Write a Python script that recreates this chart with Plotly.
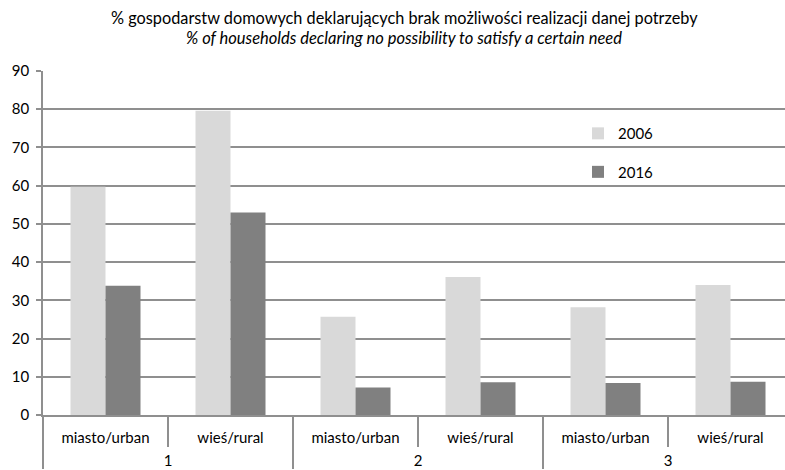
import plotly.graph_objects as go

groups = ["1", "1", "2", "2", "3", "3"]
areas = ["miasto/urban", "wieś/rural", "miasto/urban", "wieś/rural", "miasto/urban", "wieś/rural"]
values_2006 = [59.7, 79.6, 25.7, 36.1, 28.2, 34.0]
values_2016 = [33.8, 53.0, 7.2, 8.6, 8.4, 8.7]
y_ticks = [0, 10, 20, 30, 40, 50, 60, 70, 80, 90]
title_pl = "% gospodarstw domowych deklarujących brak możliwości realizacji danej potrzeby"
title_en = "% of households declaring no possibility to satisfy a certain need"

FONT = "Lato"
GRID = "#8f8f8f"

# outer level labels get a leading line break so they sit lower, as in the reference
span = "<span style='font-size:15px'>{}</span>"
group_labels = ["<br>" + span.format(g) for g in groups]
area_labels = [span.format(a) for a in areas]

fig = go.Figure()
fig.add_trace(go.Bar(x=[group_labels, area_labels], y=values_2006, name="2006",
                     marker=dict(color="#d9d9d9", line=dict(width=0)),
                     legendgroup="a"))
fig.add_trace(go.Bar(x=[group_labels, area_labels], y=values_2016, name="2016",
                     marker=dict(color="#808080", line=dict(width=0)),
                     legendgroup="b"))

fig.add_annotation(text=title_pl, xref="paper", yref="paper", x=(404 - 43) / 742, y=(415 - 18) / 344,
                   xanchor="center", yanchor="middle", showarrow=False,
                   font=dict(family=FONT, size=16.3, color="#000000"))
fig.add_annotation(text="<i>" + title_en + "</i>", xref="paper", yref="paper", x=(404 - 43) / 742,
                   y=(415 - 38) / 344, xanchor="center", yanchor="middle", showarrow=False,
                   font=dict(family=FONT, size=16.5, color="#000000"))

fig.update_layout(
    width=785, height=470,
    margin=dict(l=43, r=0, t=71, b=55, autoexpand=False),
    paper_bgcolor="white", plot_bgcolor="white",
    barmode="group", bargap=0.44, bargroupgap=0,
    font=dict(family=FONT, size=15, color="#000000"),
    legend=dict(x=0.721, y=0.866, xanchor="left", yanchor="top",
                bgcolor="rgba(0,0,0,0)", font=dict(size=15),
                tracegroupgap=16, itemwidth=30),
    xaxis=dict(type="multicategory", range=[-0.5, 5.436], automargin=False,
               showline=True, linecolor=GRID, linewidth=1.5,
               ticks="outside", tickson="boundaries", ticklen=30, tickcolor=GRID, tickwidth=1.5,
               showdividers=True, dividercolor=GRID, dividerwidth=1.5,
               ticklabelstandoff=12,
               tickfont=dict(size=11.5), showgrid=False),
    yaxis=dict(range=[0, 90], tickvals=y_ticks, showgrid=True, gridcolor=GRID, gridwidth=1.5,
               automargin=False,
               showline=True, linecolor=GRID, linewidth=1.5,
               ticks="outside", ticklen=5, tickcolor=GRID, tickwidth=1.5,
               ticklabelstandoff=4,
               tickfont=dict(size=15), zeroline=False),
)

fig.write_html("out.html", config={"displayModeBar": False},
               post_script="document.body.style.margin='0';")
